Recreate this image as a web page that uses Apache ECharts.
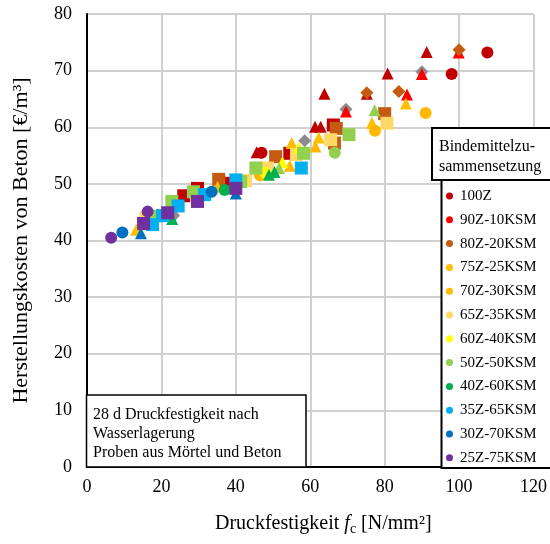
<!DOCTYPE html>
<html>
<head>
<meta charset="utf-8">
<script src="https://cdn.jsdelivr.net/npm/echarts/dist/echarts.min.js"></script>
<style>
html, body { margin: 0; padding: 0; background: #fff; }
#chart { width: 550px; height: 544px; }
</style>
</head>
<body>
<div id="chart"></div>
<script>
// Binder compositions (legend order) and their colours
const compositions = ['100Z', '90Z-10KSM', '80Z-20KSM', '75Z-25KSM', '70Z-30KSM', '65Z-35KSM',
  '60Z-40KSM', '50Z-50KSM', '40Z-60KSM', '35Z-65KSM', '30Z-70KSM', '25Z-75KSM'];
const colors = ['#C00000', '#FF0000', '#C55A11', '#FFC000', '#FFB800', '#FFD966',
  '#FFFF00', '#92D050', '#00B050', '#00B0F0', '#0070C0', '#7030A0'];

// [compressive strength f_c (N/mm²), production cost (€/m³)] per composition and marker
const pts100Z = {
  circle:   [[107.6, 73.2], [98.0, 69.4], [46.9, 55.5]],
  triangle: [[91.3, 73.3], [80.8, 69.5], [63.8, 65.9], [75.2, 65.9], [61.3, 60.1], [62.8, 60.1], [45.6, 55.6]],
  rect:     [[26.0, 47.9], [29.7, 49.2], [36.9, 50.1], [54.5, 55.4], [66.2, 60.4]],
  diamond:  []
};
const pts90Z = {
  circle: [], rect: [], diamond: [],
  triangle: [[99.9, 73.2], [90.0, 69.4], [69.6, 62.8], [86.0, 65.8]]
};
const pts80Z = {
  circle: [], triangle: [],
  rect:    [[35.4, 50.8], [50.7, 54.8], [67.0, 59.8], [66.5, 57.2], [80.0, 62.4]],
  diamond: [[100.0, 73.7], [75.2, 66.1], [83.8, 66.3]]
};
const pts75Z = {
  circle: [], rect: [], diamond: [],
  triangle: [[85.7, 64.2], [76.6, 60.8], [62.3, 58.2], [55.0, 57.2], [35.1, 49.5], [13.2, 41.9]]
};
const pts70Z = {
  rect: [], diamond: [],
  circle:   [[91.0, 62.5], [77.4, 59.4], [46.5, 51.5]],
  triangle: [[61.4, 56.6], [54.5, 53.2]]
};
const pts65Z = {
  circle: [], triangle: [], diamond: [],
  rect: [[80.6, 60.7], [65.5, 57.8], [48.5, 52.8], [56.3, 55.2], [42.6, 50.6], [15.8, 44.0]]
};
const pts60Z = {
  rect: [], diamond: [],
  circle:   [[48.0, 51.9]],
  triangle: [[57.0, 56.4], [52.5, 53.8]]
};
const pts50Z = {
  diamond: [],
  rect:     [[18.1, 44.3], [22.8, 46.9], [28.6, 48.6], [41.3, 50.4], [45.4, 52.8], [58.2, 55.4], [70.4, 58.7]],
  circle:   [[66.6, 55.5]],
  triangle: [[51.6, 52.8], [77.3, 63.0]]
};
const pts40Z = {
  rect: [], diamond: [],
  circle:   [[37.0, 48.9]],
  triangle: [[22.9, 43.8], [48.9, 51.6], [50.4, 52.1]]
};
const pts35Z = {
  circle: [], triangle: [], diamond: [],
  rect: [[17.6, 42.8], [20.3, 44.4], [24.5, 46.1], [31.6, 48.1], [40.0, 50.7], [57.6, 52.8]]
};
const pts30Z = {
  rect: [], diamond: [],
  circle:   [[9.5, 41.4], [33.5, 48.6]],
  triangle: [[14.5, 41.3], [40.0, 48.3]]
};
const pts25Z = {
  triangle: [], diamond: [],
  circle: [[6.5, 40.5], [16.3, 45.1]],
  rect:   [[15.2, 43.0], [21.7, 44.9], [29.7, 46.9], [40.0, 49.2]]
};
// grey diamonds lying underneath some of the red triangles
const greyDiamonds = [[90.0, 69.8], [69.6, 63.2], [58.5, 57.6], [23.3, 44.4]];

const seriesPoints = [pts100Z, pts90Z, pts80Z, pts75Z, pts70Z, pts65Z,
  pts60Z, pts50Z, pts40Z, pts35Z, pts30Z, pts25Z];

// axis ticks
const xTicks = { min: 0, max: 120, interval: 20 };
const yTicks = { min: 0, max: 80, interval: 10 };

const SERIF = '"Liberation Serif", "Times New Roman", serif';
const symbolSizes = { circle: 12, triangle: 12, rect: 13, diamond: 13 };
const shapeOrder = ['diamond', 'circle', 'triangle', 'rect'];

function buildData(pts) {
  const out = [];
  shapeOrder.forEach(function (shape) {
    (pts[shape] || []).forEach(function (p) {
      out.push({ value: p, symbol: shape, symbolSize: symbolSizes[shape] });
    });
  });
  return out;
}

const series = [{
  name: 'grau',
  type: 'scatter',
  silent: true,
  symbol: 'diamond',
  symbolSize: 13,
  itemStyle: { color: '#8C8C8C', opacity: 1 },
  data: greyDiamonds
}];
compositions.forEach(function (name, i) {
  series.push({
    name: name,
    type: 'scatter',
    silent: true,
    itemStyle: { color: colors[i], opacity: 1 },
    emphasis: { disabled: true },
    data: buildData(seriesPoints[i])
  });
});

const chart = echarts.init(document.getElementById('chart'), null, { renderer: 'canvas' });
chart.setOption({
  animation: false,
  backgroundColor: '#fff',
  grid: { left: 87, right: 15, top: 14, bottom: 77, containLabel: false },
  xAxis: {
    type: 'value',
    min: xTicks.min, max: xTicks.max, interval: xTicks.interval,
    axisLine: { show: true, onZero: false, lineStyle: { color: '#000', width: 2 } },
    axisTick: { show: false },
    axisLabel: { margin: 11, color: '#000', fontFamily: SERIF, fontSize: 18 },
    splitLine: { show: true, lineStyle: { color: '#D0D0D0', width: 2 } },
    name: '{a|Druckfestigkeit }{i|f}{s|c}{a| [N/mm²]}',
    nameLocation: 'middle',
    nameGap: 45,
    nameTextStyle: {
      padding: [0, 0, 0, 26],
      rich: {
        a: { fontFamily: SERIF, fontSize: 20, color: '#000', lineHeight: 24 },
        i: { fontFamily: SERIF, fontSize: 20, fontStyle: 'italic', color: '#000', lineHeight: 24 },
        s: { fontFamily: SERIF, fontSize: 14, color: '#000', lineHeight: 18, verticalAlign: 'bottom' }
      }
    }
  },
  yAxis: {
    type: 'value',
    min: yTicks.min, max: yTicks.max, interval: yTicks.interval,
    axisLine: { show: true, onZero: false, lineStyle: { color: '#000', width: 2 } },
    axisTick: { show: false },
    axisLabel: { margin: 15, color: '#000', fontFamily: SERIF, fontSize: 18 },
    splitLine: { show: true, lineStyle: { color: '#D0D0D0', width: 2 } },
    name: 'Herstellungskosten von Beton [€/m³]',
    nameLocation: 'middle',
    nameGap: 55,
    nameTextStyle: { fontFamily: SERIF, fontSize: 22, color: '#000' }
  },
  legend: {
    data: compositions,
    orient: 'vertical',
    left: 446,
    top: 188,
    padding: 0,
    icon: 'circle',
    itemWidth: 11,
    itemHeight: 7,
    itemGap: 7.8,
    selectedMode: false,
    textStyle: { fontFamily: SERIF, fontSize: 15, color: '#000', lineHeight: 16 },
    z: 20
  },
  graphic: [
    // note box bottom left
    { type: 'rect', z: 10, shape: { x: 86.5, y: 395, width: 219.5, height: 72 },
      style: { fill: '#fff', stroke: '#000', lineWidth: 1.5 } },
    { type: 'text', z: 11, x: 93, y: 415,
      style: { text: '28 d Druckfestigkeit nach', font: '16px ' + SERIF, fill: '#000', verticalAlign: 'middle' } },
    { type: 'text', z: 11, x: 93, y: 434,
      style: { text: 'Wasserlagerung', font: '16px ' + SERIF, fill: '#000', verticalAlign: 'middle' } },
    { type: 'text', z: 11, x: 93, y: 453,
      style: { text: 'Proben aus Mörtel und Beton', font: '16px ' + SERIF, fill: '#000', verticalAlign: 'middle' } },
    // legend frame and legend title
    { type: 'rect', z: 10, shape: { x: 441.5, y: 180, width: 120, height: 288 },
      style: { fill: '#fff', stroke: '#000', lineWidth: 2 } },
    { type: 'rect', z: 10, shape: { x: 432, y: 128, width: 130, height: 52 },
      style: { fill: '#fff', stroke: '#000', lineWidth: 2 } },
    { type: 'text', z: 11, x: 439, y: 147,
      style: { text: 'Bindemittelzu-', font: '16px ' + SERIF, fill: '#000', verticalAlign: 'middle' } },
    { type: 'text', z: 11, x: 439, y: 167,
      style: { text: 'sammensetzung', font: '16px ' + SERIF, fill: '#000', verticalAlign: 'middle' } }
  ],
  series: series
});
</script>
</body>
</html>
